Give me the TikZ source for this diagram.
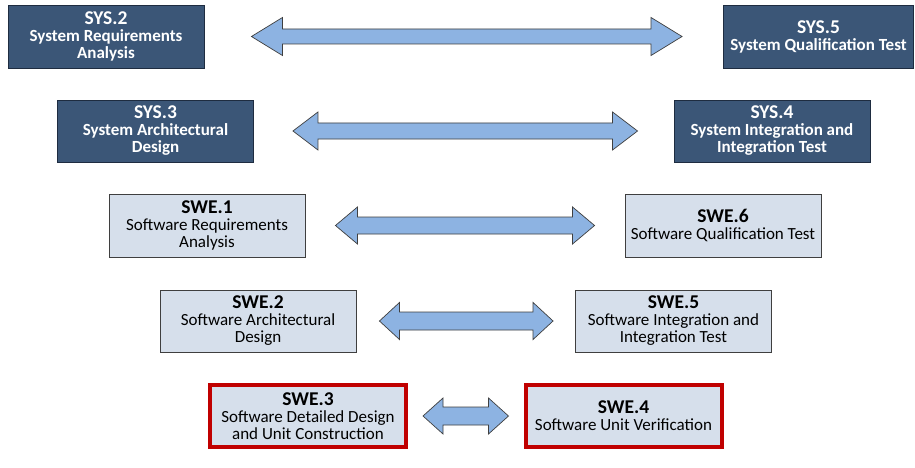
\documentclass[tikz,border=0pt]{standalone}
\usepackage{fontspec}
\setmainfont{Carlito}
\usetikzlibrary{calc}

\definecolor{sysfill}{HTML}{3B5677}
\definecolor{sysline}{HTML}{1E2C40}
\definecolor{swefill}{HTML}{D6DFEB}
\definecolor{sweline}{HTML}{3F3F3F}
\definecolor{redline}{HTML}{C00000}
\definecolor{arrfill}{HTML}{8DB3E2}
\definecolor{arrline}{HTML}{3F3F3F}

\tikzset{
  box/.style={rectangle, inner sep=0pt, align=center,
    minimum width=196pt, minimum height=62pt,
    font=\fontsize{17}{17}\selectfont},
  sysbox/.style={box, fill=sysfill, draw=sysline, line width=0.9pt,
    text=white, font=\fontsize{17}{17}\selectfont\bfseries},
  swebox/.style={box, fill=swefill, draw=sweline, line width=0.9pt, text=black},
  redbox/.style={swebox, draw=redline, line width=4pt},
  barrow/.style={fill=arrfill, draw=arrline, line width=0.7pt, line join=miter},
}
\newcommand{\ttl}[1]{{\fontsize{19.5}{20}\selectfont\bfseries #1}}

% block double arrow between two tip coordinates:
% #1 left tip, #2 right tip, #3 head length, #4 head half height, #5 shaft half height
\newcommand{\dblarrow}[5]{%
  \draw[barrow] (#1) -- ($(#1)+(#3,-#4)$) -- ($(#1)+(#3,-#5)$)
    -- ($(#2)+(-#3,-#5)$) -- ($(#2)+(-#3,-#4)$) -- (#2)
    -- ($(#2)+(-#3,#4)$) -- ($(#2)+(-#3,#5)$)
    -- ($(#1)+(#3,#5)$) -- ($(#1)+(#3,#4)$) -- cycle;}

\begin{document}
\begin{tikzpicture}[x=1pt,y=-1pt]
\useasboundingbox[fill=white] (0,0) rectangle (915,468);

% system level
\node[sysbox, minimum height=63pt] (sys2) at (106,36.5)
  {\ttl{SYS.2}\\System Requirements\\Analysis};
\node[sysbox, minimum width=190pt, minimum height=63pt] (sys5) at (818.5,36.5)
  {\ttl{SYS.5}\\System Qualification Test};
\node[sysbox] (sys3) at (155.5,131)
  {\ttl{SYS.3}\\System Architectural\\Design};
\node[sysbox] (sys4) at (772,131)
  {\ttl{SYS.4}\\System Integration and\\Integration Test};

% software level
\node[swebox, minimum height=63pt] (swe1) at (207,225.5)
  {\ttl{SWE.1}\\Software Requirements\\Analysis};
\node[swebox, minimum height=63pt] (swe6) at (723,225.5)
  {\ttl{SWE.6}\\Software Qualification Test};
\node[swebox] (swe2) at (258,321)
  {\ttl{SWE.2}\\Software Architectural\\Design};
\node[swebox] (swe5) at (673.5,321)
  {\ttl{SWE.5}\\Software Integration and\\Integration Test};
\node[redbox] (swe3) at (308,416)
  {\ttl{SWE.3}\\Software Detailed Design\\and Unit Construction};
\node[redbox] (swe4) at (623.5,416)
  {\ttl{SWE.4}\\Software Unit Verification};

% arrow tips
\coordinate (a1l) at ($(sys2.east)+(47,0)$);
\coordinate (a1r) at ($(sys5.west)+(-41,0)$);
\coordinate (a2l) at ($(sys3.east)+(39,0)$);
\coordinate (a2r) at ($(sys4.west)+(-36,0)$);
\coordinate (a3l) at ($(swe1.east)+(30,0)$);
\coordinate (a3r) at ($(swe6.west)+(-30,0)$);
\coordinate (a4l) at ($(swe2.east)+(23,0)$);
\coordinate (a4r) at ($(swe5.west)+(-22,0)$);
\coordinate (a5l) at ($(swe3.east)+(15,0)$);
\coordinate (a5r) at ($(swe4.west)+(-15,0)$);

\dblarrow{a1l}{a1r}{31}{19}{7.5}
\dblarrow{a2l}{a2r}{25}{19}{8}
\dblarrow{a3l}{a3r}{22}{18.5}{8.5}
\dblarrow{a4l}{a4r}{20}{18.5}{9}
\dblarrow{a5l}{a5r}{20}{18}{9}
\end{tikzpicture}
\end{document}
